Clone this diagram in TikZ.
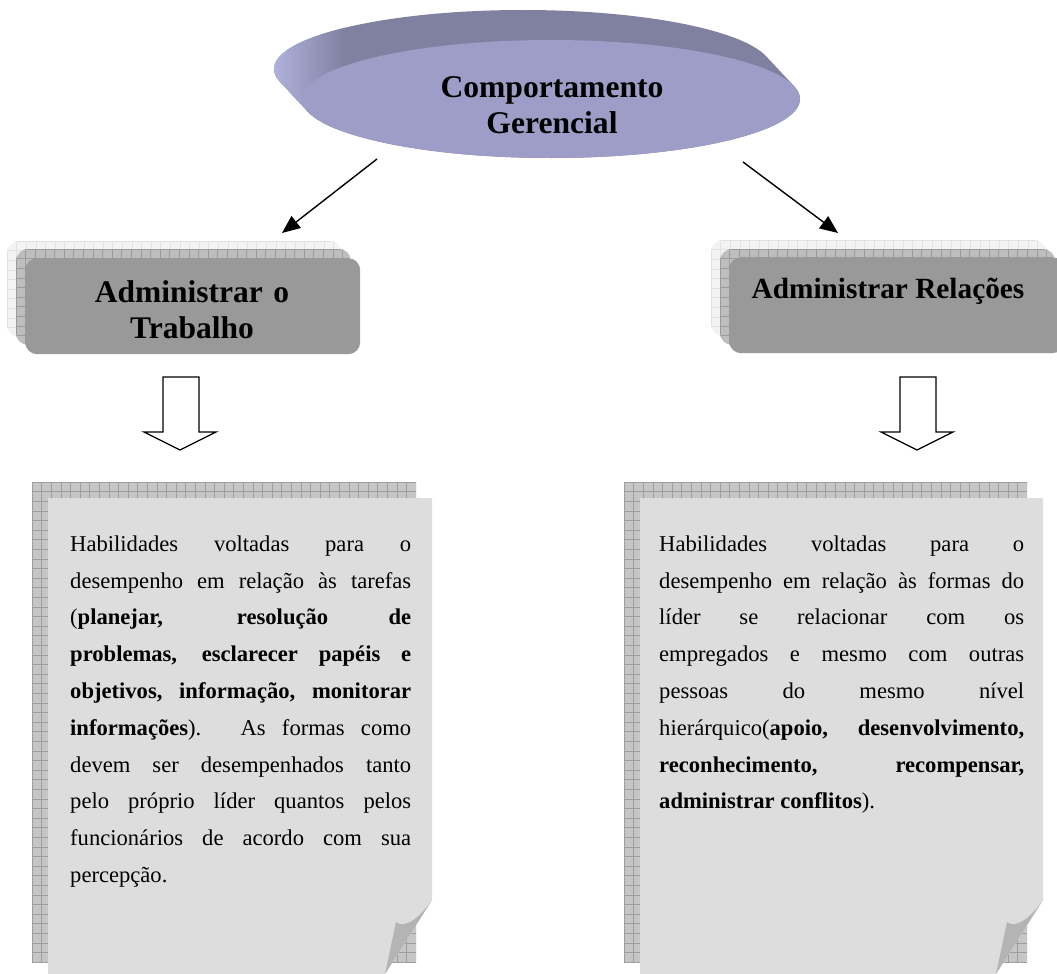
\documentclass[tikz,border=0pt]{standalone}
\usepackage{fontspec}
\setmainfont{Liberation Serif}
\usetikzlibrary{arrows.meta,shapes.geometric}
\tolerance=10000
\hbadness=10000

\definecolor{discface}{RGB}{157,157,199}
\definecolor{discside}{RGB}{128,128,161}
\definecolor{discedge}{RGB}{180,182,224}
\definecolor{headfront}{RGB}{153,153,153}
\definecolor{headmid}{RGB}{190,190,190}
\definecolor{headmidline}{RGB}{155,155,155}
\definecolor{headback}{RGB}{243,243,243}
\definecolor{headbackline}{RGB}{226,226,226}
\definecolor{pagefront}{RGB}{221,221,221}
\definecolor{pagegrid}{RGB}{198,198,198}
\definecolor{pagegridline}{RGB}{158,158,158}
\definecolor{pagecurl}{RGB}{180,180,180}

% a filled panel with a square grid drawn over it
% #1,#2: top left   #3,#4: bottom right   #5: fill   #6: line colour   #7: corner option
\newcommand{\gridpanel}[7]{%
  \begin{scope}
    \clip[#7] (#1,#2) rectangle (#3,#4);
    \fill[#5] (#1,#2) rectangle (#3,#4);
    \foreach \k in {0,...,50} {
      \draw[#6, line width=0.6pt] (#1+\k*9.6,#2) -- (#1+\k*9.6,#4);
      \draw[#6, line width=0.6pt] (#1,#2+\k*9.6) -- (#3,#2+\k*9.6);
    }
  \end{scope}}

% sheet with a curled lower right corner; #1,#2: top left, #3: right edge
\newcommand{\curlsheet}[3]{%
  \fill[pagefront] (#1,#2) -- (#3,#2) -- (#3,900) -- (#3-47,974) -- (#1,974) -- cycle;
  \fill[pagecurl] (#3-36,922) .. controls (#3-28,929) and (#3-13,919) .. (#3,900)
    -- (#3-47,974) -- cycle;}

\tikzset{
  headbox/.style={fill=headfront, rounded corners=12pt, minimum width=335pt,
    minimum height=96pt, inner sep=0pt},
  pagetext/.style={font=\fontsize{22.6}{36.8}\selectfont, align=justify,
    inner sep=0pt, anchor=north west},
  linkarrow/.style={line width=1.4pt, -{Triangle[length=18pt,width=15pt]}},
  blockarrow/.style={line width=1.3pt, fill=white, line join=miter},
}

\begin{document}
\begin{tikzpicture}[x=1pt, y=-1pt]
\useasboundingbox (0,0) rectangle (1057,974);
\clip (0,0) rectangle (1057,974);

% ---- tilted disc ----
\begin{scope}
  \clip (523,69) ellipse [x radius=249, y radius=59]
    foreach \k in {1,...,24} { (523+28*\k/24, 69+30*\k/24) ellipse [x radius=249, y radius=59] };
  \fill[discside] (260,0) rectangle (810,170);
  \shade[left color=discedge, right color=discside] (268,0) rectangle (345,170);
\end{scope}
\node[ellipse, fill=discface, minimum width=498pt, minimum height=118pt, inner sep=0pt]
  (disc) at (551,99) {};
\node[font={\bfseries\fontsize{31.6}{36}\selectfont}, text width=320pt, align=center,
  inner sep=0pt, anchor=north] (title) at (552,71.8) {\strut Comportamento\\Gerencial};

% ---- heading boxes ----
\gridpanel{7}{241}{342}{337}{headback}{headbackline}{rounded corners=12pt}
\gridpanel{16}{249}{351}{345}{headmid}{headmidline}{rounded corners=12pt}
\node[headbox, anchor=north west] (work) at (25,258) {};
\node[font={\bfseries\fontsize{31.5}{36}\selectfont}, text width=330pt, align=center,
  inner sep=0pt, anchor=north] (worktxt) at (192,276.8) {\strut Administrar o\\Trabalho};

\gridpanel{711}{240}{1046}{336}{headback}{headbackline}{rounded corners=12pt}
\gridpanel{720}{249}{1055}{345}{headmid}{headmidline}{rounded corners=12pt}
\node[headbox, anchor=north west] (rel) at (729,257) {};
\node[font={\bfseries\fontsize{29.3}{34}\selectfont}, inner sep=0pt, anchor=north]
  (reltxt) at (888,274.2) {\strut Administrar Relações};

% ---- arrows from the disc ----
\coordinate (discL) at (377,159);
\coordinate (workTip) at (282,233);
\coordinate (discR) at (743,162);
\coordinate (relTip) at (838,233);
\draw[linkarrow] (discL) -- (workTip);
\draw[linkarrow] (discR) -- (relTip);

% ---- hollow down arrows ----
\draw[blockarrow] (163,377) -- (199,377) -- (199,432) -- (216,432) -- (180,450)
  -- (144,432) -- (163,432) -- cycle;
\draw[blockarrow] (900,377) -- (936,377) -- (936,432) -- (953,432) -- (917,450)
  -- (881,432) -- (900,432) -- cycle;

% ---- text sheets ----
\gridpanel{32}{482}{416}{962}{pagegrid}{pagegridline}{sharp corners}
\curlsheet{48}{498}{432}
\node[pagetext, text width=341pt] (workdesc) at (70,525.24) {\strut Habilidades voltadas para o\linebreak
desempenho em relação às tarefas\linebreak
(\textbf{planejar, resolução de}\linebreak
\textbf{problemas, esclarecer papéis e}\linebreak
\textbf{objetivos, informação, monitorar}\linebreak
\textbf{informações}). As formas como\linebreak
devem ser desempenhados tanto\linebreak
pelo próprio líder quantos pelos\linebreak
funcionários de acordo com sua\linebreak
percepção.};

\gridpanel{624}{482}{1027}{962}{pagegrid}{pagegridline}{sharp corners}
\curlsheet{640}{498}{1043}
\node[pagetext, text width=365pt] (reldesc) at (659,525.24) {\strut Habilidades voltadas para o\linebreak
desempenho em relação às formas do\linebreak
líder se relacionar com os\linebreak
empregados e mesmo com outras\linebreak
pessoas do mesmo nível\linebreak
hierárquico(\textbf{apoio, desenvolvimento,}\linebreak
\textbf{reconhecimento, recompensar,}\linebreak
\textbf{administrar conflitos}).};
\end{tikzpicture}
\end{document}
